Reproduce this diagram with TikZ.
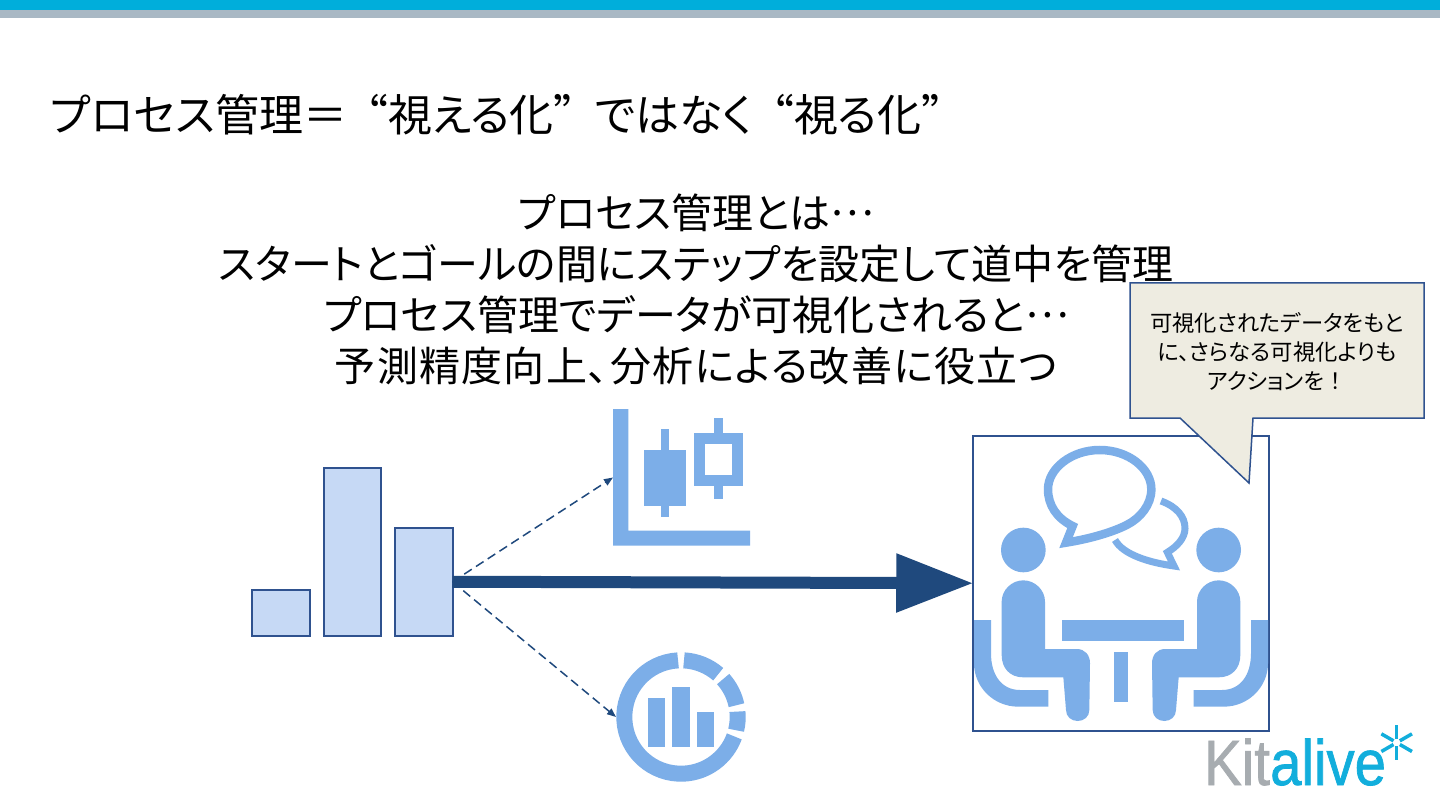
\documentclass[tikz,border=0pt]{standalone}
\usepackage{fontspec}
\setmainfont[RawFeature=+palt]{Noto Sans CJK JP}
\newfontfamily\fw[RawFeature=+fwid]{Noto Sans CJK JP}
\newfontfamily\wideline[RawFeature=+palt,LetterSpace=3]{Noto Sans CJK JP}
\newfontfamily\logofont[FakeBold=1.2]{Liberation Sans}
\newcommand{\openq}{\hspace{-3pt}{\fw “}}
\newcommand{\closeq}{{\fw ”}\hspace{-3pt}}
\newcommand{\middots}{\raisebox{.3em}{\fw …}}
\usetikzlibrary{arrows.meta}
\definecolor{topcyan}{HTML}{00AEDB}
\definecolor{topgrey}{HTML}{A9B8C4}
\definecolor{navy}{HTML}{1F497D}
\definecolor{barfill}{HTML}{C6D9F5}
\definecolor{barline}{HTML}{2F528F}
\definecolor{iconblue}{HTML}{7CAEE8}
\definecolor{callfill}{HTML}{EEECE1}
\definecolor{logogrey}{HTML}{A7ACB0}
\definecolor{logocyan}{HTML}{12AEDC}
\tikzset{
  barbox/.style={draw=barline,fill=barfill,line width=2pt,anchor=north west,inner sep=0pt,outer sep=0pt},
  iconholder/.style={inner sep=0pt,outer sep=0pt,minimum width=#1,minimum height=#1},
  iconfill/.style={fill=iconblue,draw=none},
  thinarrow/.style={draw=navy,line width=1.5pt,dash pattern=on 9pt off 5pt,-{Triangle[length=9pt,width=7pt]}},
  thickarrow/.style={draw=navy,line width=12pt,-{Triangle[length=77pt,width=56pt]}},
}
\begin{document}
\begin{tikzpicture}[x=1pt,y=-1pt]
\useasboundingbox (0,0) rectangle (1440,810);
\fill[white] (0,0) rectangle (1440,810);
\fill[topcyan] (0,0) rectangle (1440,10);
\fill[topgrey] (0,10) rectangle (1440,18);

\node[anchor=west,inner sep=0pt,font=\fontsize{44}{52}\selectfont] (title) at (50,115) {プロセス管理＝\openq 視える化\closeq ではなく\openq 視る化\closeq};

\node[align=center,inner sep=0pt,font=\fontsize{41}{51}\selectfont] (body) at (696,289)
 {プロセス管理とは\middots\\スタートとゴールの間にステップを設定して道中を管理\\プロセス管理でデータが可視化されると\middots\\{\wideline 予測精度向上、分析による改善に役立つ}};

% bars
\node[barbox,minimum width=57.5pt,minimum height=46pt] (bar1) at (252,590) {};
\node[barbox,minimum width=57.5pt,minimum height=168pt] (bar2) at (323.5,468) {};
\node[barbox,minimum width=57.5pt,minimum height=108.5pt] (bar3) at (395,527.5) {};

% chart icon
\node[iconholder=137pt] (chart) at (681.5,477.5) {};
\begin{scope}[shift={(600,400)},x=1/3 pt,y=-1/3 pt]
\fill[iconfill] (39,27) -- (85,27) -- (85,392) -- (450,392) -- (450,437) -- (39,437) -- cycle;
\fill[iconfill] (182,88) rectangle (208,350);
\fill[iconfill] (132,150) rectangle (258,318);
\fill[iconfill] (343,54) rectangle (368,298);
\fill[iconfill] (283,100) rectangle (428,258);
\fill[white] (315,131) rectangle (397,226);
\end{scope}

% donut icon
\node[iconholder=130pt] (donut) at (681,717) {};
\begin{scope}[shift={(681,717)},yscale=-1]
\draw[iconblue,line width=16pt] (93:56.7) arc[start angle=93,end angle=340,radius=56.7];
\draw[iconblue,line width=16pt] (87:56.7) arc[start angle=87,end angle=49,radius=56.7];
\draw[iconblue,line width=16pt] (42:56.7) arc[start angle=42,end angle=12,radius=56.7];
\draw[iconblue,line width=16pt] (5.5:56.7) arc[start angle=5.5,end angle=-13.5,radius=56.7];
\end{scope}
\begin{scope}[shift={(600,640)},x=1/3 pt,y=-1/3 pt]
\fill[iconfill] (143,173) rectangle (196,320);
\fill[iconfill] (216,142) rectangle (270,320);
\fill[iconfill] (290,215) rectangle (343,320);
\end{scope}

% meeting icon
\node[draw=barline,line width=2pt,inner sep=0pt,outer sep=0pt,minimum width=295.5pt,minimum height=295pt] (box) at (1121,583.2) {};
\begin{scope}[shift={(960,420)},x=1/3 pt,y=-1/3 pt]
\foreach \mx/\sx in {0/1,966/-1}{
\begin{scope}[shift={(\mx,0)},xscale=\sx]
\fill[iconfill] (190,390) circle[radius=67];
\fill[iconfill] (125,545) .. controls (125,510) and (155,481) .. (190,481) .. controls (225,481) and (255,510) .. (255,545)
  -- (255,687) -- (350,687) .. controls (375,687) and (390,705) .. (390,730) -- (388,870)
  .. controls (388,890) and (372,903) .. (353,903) .. controls (334,903) and (318,890) .. (318,870)
  -- (310,772) -- (190,772) .. controls (150,772) and (125,745) .. (125,705) -- cycle;
\fill[iconfill] (42,600) -- (93,600) -- (93,700) .. controls (93,765) and (125,810) .. (180,810) -- (265,810) -- (265,860) -- (175,860)
  .. controls (100,860) and (42,800) .. (42,730) -- cycle;
\end{scope}
}
\fill[iconfill] (306,600) rectangle (672,662);
\fill[iconfill] (463,695) rectangle (504,847);
\draw[iconblue,line width=8.5pt,miter limit=10] (318,368) -- (338,318) .. controls (290,295) and (264,255) .. (264,208)
  .. controls (264,145) and (335,90) .. (419,90) .. controls (505,90) and (574,145) .. (574,208)
  .. controls (574,255) and (540,295) .. (500,315) .. controls (450,340) and (380,358) .. (318,368) -- cycle;
\draw[iconblue,line width=7pt,miter limit=10] (603,243) .. controls (650,260) and (675,290) .. (675,325)
  .. controls (675,355) and (650,380) .. (622,397) -- (642,438) .. controls (570,428) and (490,405) .. (465,360);
\end{scope}

% connectors
\draw[thickarrow] (bar3.east) -- (box.west);
\draw[thinarrow] (bar3.east) -- (chart.west);
\draw[thinarrow] (bar3.east) -- (donut.west);

% callout
\draw[draw=barline,fill=callfill,line width=1.5pt,line join=miter]
  (1130,283) -- (1424,283) -- (1424,418) -- (1253,418) -- (1249,483) -- (1180,418) -- (1130,418) -- cycle;
\node[align=center,inner sep=0pt,font=\fontsize{22.3}{29}\selectfont] (calltext) at (1277,352)
 {可視化されたデータをもと\\に、さらなる可視化よりも\\アクションを{\fw ！}};

% logo
\node[anchor=base west,inner sep=0pt,xscale=.88,font=\logofont\fontsize{64}{64}\selectfont,text=logogrey] (logokit) at (1204,785) {Kit};
\node[anchor=base west,inner sep=0pt,xscale=.88,font=\logofont\fontsize{64}{64}\selectfont,text=logocyan] (logoalive) at (1270,785) {alive};
\begin{scope}[shift={(1190,720)},x=1/3 pt,y=-1/3 pt]
\foreach \a in {90,150,210,270,330,30}{
  \draw[logocyan,line width=3.5pt] (620,68) ++(\a:11) -- ++(\a:42);
}
\end{scope}
\end{tikzpicture}
\end{document}
